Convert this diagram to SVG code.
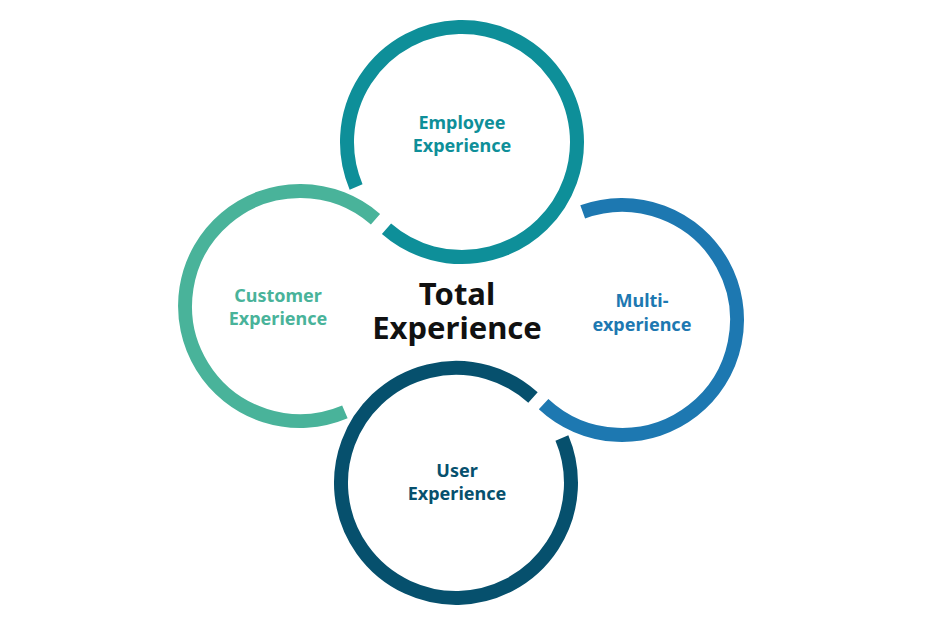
<svg xmlns="http://www.w3.org/2000/svg" width="931" height="624" viewBox="0 0 931 624">
<style>
.ring{fill:none;stroke-width:14;stroke-linecap:butt}
.lbl{font-family:"Noto Sans","Open Sans",sans-serif;font-weight:700;font-size:18px;text-anchor:middle}
.big{font-family:"Noto Sans","Open Sans",sans-serif;font-weight:700;font-size:31px;text-anchor:middle;fill:#111}
</style>
<rect width="931" height="624" fill="#fff"/>
<g id="connectors"></g>
<g id="employee">
<path class="ring" stroke="#0e8f99" d="M356.1,186.9 A115,115 0 1 1 386.5,228.8"/>
<text class="lbl" fill="#0e8f99" x="462" y="129">Employee</text>
<text class="lbl" fill="#0e8f99" x="462" y="152">Experience</text>
</g>
<g id="customer">
<path class="ring" stroke="#49b39a" d="M344.9,411.9 A115,115 0 1 1 375.5,219.2"/>
<text class="lbl" fill="#49b39a" x="278" y="302">Customer</text>
<text class="lbl" fill="#49b39a" x="278" y="325">Experience</text>
</g>
<g id="multi">
<path class="ring" stroke="#1d78b1" d="M582.7,211.9 A115,115 0 1 1 543.6,404.1"/>
<text class="lbl" fill="#1d78b1" x="642" y="307">Multi-</text>
<text class="lbl" fill="#1d78b1" x="642" y="331">experience</text>
</g>
<g id="user">
<path class="ring" stroke="#06506d" d="M561.9,438.1 A115,115 0 1 1 533.0,397.5"/>
<text class="lbl" fill="#06506d" x="457" y="477">User</text>
<text class="lbl" fill="#06506d" x="457" y="500">Experience</text>
</g>
<g id="total">
<text class="big" x="457" y="305">Total</text>
<text class="big" x="457" y="339">Experience</text>
</g>
</svg>
